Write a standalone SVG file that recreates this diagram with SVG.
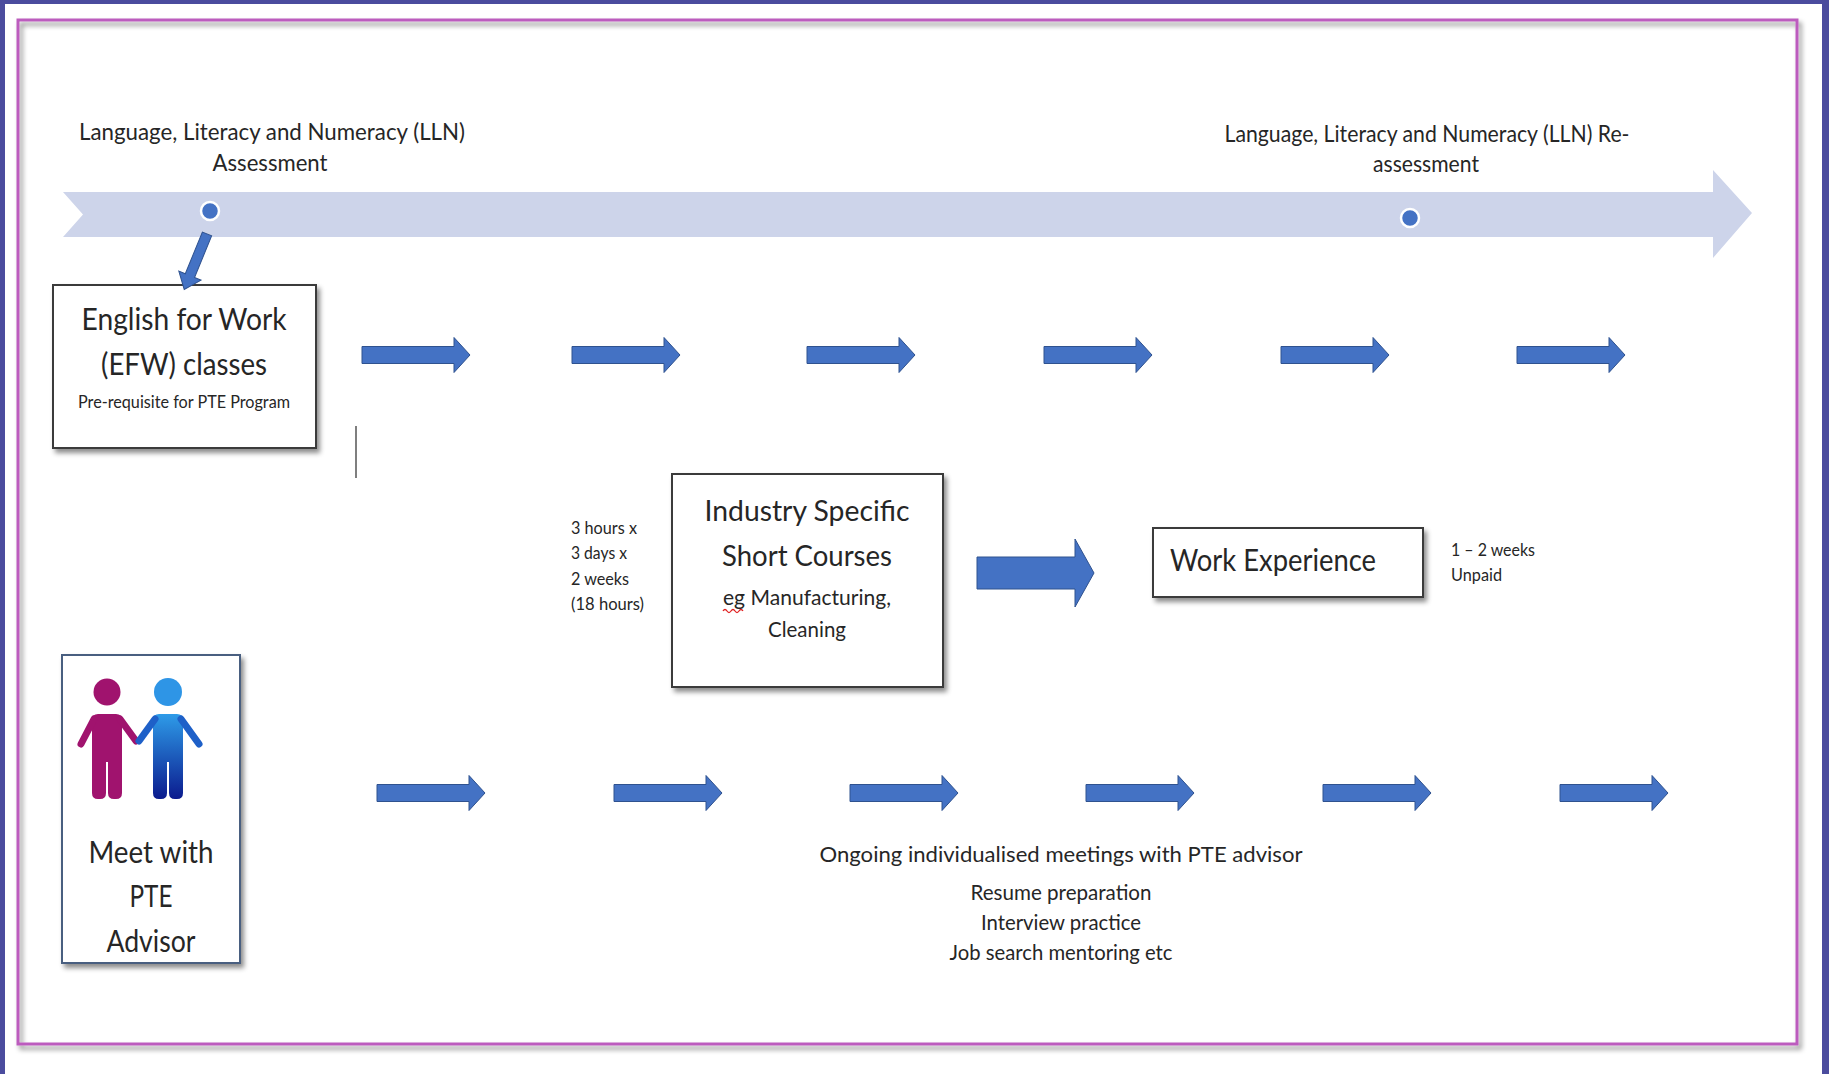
<svg xmlns="http://www.w3.org/2000/svg" width="1829" height="1074" viewBox="0 0 1829 1074">
<defs>
<style>
.t{font-family:Lato,"Liberation Sans",sans-serif;fill:#262626}
.box{fill:#fff;stroke:#3a3a3a;stroke-width:2;filter:url(#sh)}
.arr{fill:#4472C4;stroke:#2F528F;stroke-width:1}
.dot{fill:#4472C4;stroke:#fff;stroke-width:2.5}
</style>
<filter id="sh" x="-10%" y="-10%" width="130%" height="130%">
<feDropShadow dx="3" dy="4" stdDeviation="2.5" flood-color="#000" flood-opacity="0.45"/>
</filter>
<linearGradient id="bluep" x1="0" y1="0" x2="0" y2="1">
<stop offset="0" stop-color="#2E9BE8"/>
<stop offset="1" stop-color="#0B1B8E"/>
</linearGradient>
<path id="ar" d="M0,-8.5H92V-17.5L108,0L92,17.5V8.5H0Z"/>
</defs>

<g id="frame">
<rect x="0" y="0" width="1829" height="1074" fill="#4B4C9E"/>
<rect x="5" y="4" width="1817" height="1070" fill="#fff"/>
<rect x="18" y="20" width="1779" height="1024" fill="none" stroke="#BC5CBE" stroke-width="3" filter="url(#sh)"/>
</g>

<g id="timeline">
<polygon points="63,192 1713,192 1713,170 1752,213 1713,258 1713,237 63,237 83,214.5" fill="#CDD4EA"/>
<circle class="dot" cx="210" cy="211" r="9"/>
<circle class="dot" cx="1410" cy="218" r="9"/>
<text class="t" x="272" y="140" font-size="24" text-anchor="middle" textLength="386" lengthAdjust="spacingAndGlyphs">Language, Literacy and Numeracy (LLN)</text>
<text class="t" x="270" y="171" font-size="24" text-anchor="middle" textLength="115" lengthAdjust="spacingAndGlyphs">Assessment</text>
<text class="t" x="1427" y="142" font-size="24" text-anchor="middle" textLength="405" lengthAdjust="spacingAndGlyphs">Language, Literacy and Numeracy (LLN) Re-</text>
<text class="t" x="1426" y="172" font-size="24" text-anchor="middle" textLength="106" lengthAdjust="spacingAndGlyphs">assessment</text>
</g>

<g id="efw">
<rect class="box" x="53" y="285" width="263" height="163"/>
<text class="t" x="184" y="330" font-size="31" text-anchor="middle" textLength="205" lengthAdjust="spacingAndGlyphs">English for Work</text>
<text class="t" x="184" y="375" font-size="31" text-anchor="middle" textLength="166" lengthAdjust="spacingAndGlyphs">(EFW) classes</text>
<text class="t" x="184" y="408" font-size="17" text-anchor="middle" textLength="212" lengthAdjust="spacingAndGlyphs">Pre-requisite for PTE Program</text>
</g>

<g id="industry">
<rect class="box" x="672" y="474" width="271" height="213"/>
<text class="t" x="807" y="521" font-size="29" text-anchor="middle" textLength="205" lengthAdjust="spacingAndGlyphs">Industry Specific</text>
<text class="t" x="807" y="566" font-size="29" text-anchor="middle" textLength="170" lengthAdjust="spacingAndGlyphs">Short Courses</text>
<text class="t" x="807" y="605" font-size="22" text-anchor="middle" textLength="168" lengthAdjust="spacingAndGlyphs">eg Manufacturing,</text>
<path d="M723,611 q2,-3 4,0 t4,0 t4,0 t4,0 t4,0" fill="none" stroke="#E02020" stroke-width="1.3"/>
<text class="t" x="807" y="637" font-size="22" text-anchor="middle" textLength="78" lengthAdjust="spacingAndGlyphs">Cleaning</text>
</g>

<g id="duration">
<text class="t" x="571" y="534" font-size="17" textLength="66" lengthAdjust="spacingAndGlyphs">3 hours x</text>
<text class="t" x="571" y="559" font-size="17" textLength="56" lengthAdjust="spacingAndGlyphs">3 days x</text>
<text class="t" x="571" y="585" font-size="17" textLength="58" lengthAdjust="spacingAndGlyphs">2 weeks</text>
<text class="t" x="571" y="610" font-size="17" textLength="73" lengthAdjust="spacingAndGlyphs">(18 hours)</text>
</g>

<g id="work">
<rect class="box" x="1153" y="528" width="270" height="69"/>
<text class="t" x="1170" y="571" font-size="30" textLength="206" lengthAdjust="spacingAndGlyphs">Work Experience</text>
</g>

<g id="work-note">
<text class="t" x="1451" y="556" font-size="17" textLength="84" lengthAdjust="spacingAndGlyphs">1 – 2 weeks</text>
<text class="t" x="1451" y="581" font-size="17" textLength="51" lengthAdjust="spacingAndGlyphs">Unpaid</text>
</g>

<g id="meet">
<rect class="box" x="62" y="655" width="178" height="308" style="stroke:#4A5F80"/>
<g id="people">
<g fill="#A0136E" stroke="none">
<circle cx="107" cy="692" r="13.5"/>
<path d="M92,720Q92,714 98,714H116Q122,714 122,720V793Q122,799 116,799H114Q108,799 108,793V762H106V793Q106,799 100,799H98Q92,799 92,793Z"/>
</g>
<g stroke="#A0136E" stroke-width="7" stroke-linecap="round" fill="none">
<line x1="94" y1="719" x2="81" y2="744"/>
<line x1="120" y1="719" x2="136" y2="741"/>
</g>
<g fill="url(#bluep)" stroke="none">
<circle cx="168" cy="692" r="14" fill="#2E95E6"/>
<path d="M153,720Q153,714 159,714H177Q183,714 183,720V793Q183,799 177,799H175Q169,799 169,793V762H167V793Q167,799 161,799H159Q153,799 153,793Z"/>
</g>
<g stroke="#1E60C8" stroke-width="7" stroke-linecap="round" fill="none">
<line x1="155" y1="719" x2="139" y2="741"/>
<line x1="181" y1="719" x2="199" y2="744"/>
</g>
</g>
<text class="t" x="151" y="863" font-size="30" text-anchor="middle" textLength="125" lengthAdjust="spacingAndGlyphs">Meet with</text>
<text class="t" x="151" y="907" font-size="30" text-anchor="middle" textLength="43" lengthAdjust="spacingAndGlyphs">PTE</text>
<text class="t" x="151" y="952" font-size="30" text-anchor="middle" textLength="89" lengthAdjust="spacingAndGlyphs">Advisor</text>
</g>

<g id="ongoing">
<text class="t" x="1061" y="862" font-size="22" text-anchor="middle" textLength="483" lengthAdjust="spacingAndGlyphs">Ongoing individualised meetings with PTE advisor</text>
<text class="t" x="1061" y="900" font-size="22" text-anchor="middle" textLength="181" lengthAdjust="spacingAndGlyphs">Resume preparation</text>
<text class="t" x="1061" y="930" font-size="22" text-anchor="middle" textLength="160" lengthAdjust="spacingAndGlyphs">Interview practice</text>
<text class="t" x="1061" y="960" font-size="22" text-anchor="middle" textLength="223" lengthAdjust="spacingAndGlyphs">Job search mentoring etc</text>
</g>

<g id="connectors">
<path class="arr" transform="translate(207,234) rotate(112.3)" d="M0,-5H45V-12L60,0L45,12V5H0Z"/>
<line x1="356" y1="426" x2="356" y2="478" stroke="#555" stroke-width="1.5"/>
<use href="#ar" class="arr" x="362" y="355"/>
<use href="#ar" class="arr" x="572" y="355"/>
<use href="#ar" class="arr" x="807" y="355"/>
<use href="#ar" class="arr" x="1044" y="355"/>
<use href="#ar" class="arr" x="1281" y="355"/>
<use href="#ar" class="arr" x="1517" y="355"/>
<path class="arr" d="M977,557H1075V539L1094,573L1075,607V589H977Z"/>
<use href="#ar" class="arr" x="377" y="793"/>
<use href="#ar" class="arr" x="614" y="793"/>
<use href="#ar" class="arr" x="850" y="793"/>
<use href="#ar" class="arr" x="1086" y="793"/>
<use href="#ar" class="arr" x="1323" y="793"/>
<use href="#ar" class="arr" x="1560" y="793"/>
</g>
</svg>
